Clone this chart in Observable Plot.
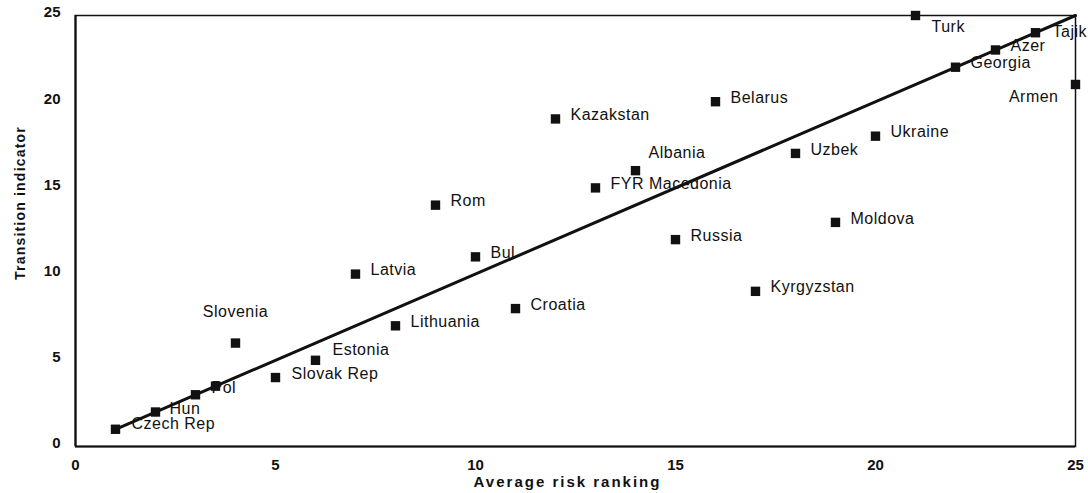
<!DOCTYPE html>
<html>
<head>
<meta charset="utf-8">
<script src="https://cdn.jsdelivr.net/npm/d3@7"></script>
<script src="https://cdn.jsdelivr.net/npm/@observablehq/plot@0.6"></script>
<style>
  html, body { margin: 0; padding: 0; background: #fff; }
  #chart svg { display: block; }
  .xtitle text { letter-spacing: 2px; }
  .ytitle text { letter-spacing: 1.2px; }
  .clabel text { letter-spacing: 0.5px; }
</style>
</head>
<body>
<div id="chart"></div>
<script>
// ---- Data ----
const countries = ["Czech Rep", "Hun", "", "Pol", "Slovenia", "Slovak Rep", "Estonia", "Latvia", "Lithuania", "Rom", "Bul", "Croatia", "Kazakstan", "FYR Macedonia", "Albania", "Russia", "Belarus", "Kyrgyzstan", "Uzbek", "Moldova", "Ukraine", "Turk", "Georgia", "Azer", "Tajik", "Armen"];
const riskRanking = [1, 2, 3, 3.5, 4, 5, 6, 7, 8, 9, 10, 11, 12, 13, 14, 15, 16, 17, 18, 19, 20, 21, 22, 23, 24, 25];
const transitionIndicator = [1, 2, 3, 3.5, 6, 4, 5, 10, 7, 14, 11, 8, 19, 15, 16, 12, 20, 9, 17, 13, 18, 25, 22, 23, 24, 21];
const fitX = [1, 25];
const fitY = [1, 25];
const xTicks = [0, 5, 10, 15, 20, 25];
const yTicks = [0, 5, 10, 15, 20, 25];
const xTitle = "Average risk ranking";
const yTitle = "Transition indicator";

// ---- Label placement (style only) ----
const labelPlacement = {
  "Czech Rep": [16, -5, "start"],
  "Hun": [14, -3, "start"],
  "Pol": [-4, 2, "start"],
  "Slovenia": [0, -31, "middle"],
  "Slovak Rep": [16, -4, "start"],
  "Estonia": [17, -10, "start"],
  "Albania": [13, -18, "start"],
  "Turk": [16, 11, "start"],
  "Tajik": [17, -1, "start"],
  "Armen": [-17, 12, "end"]
};
const defaultPlacement = [15, -4, "start"];

const points = countries.map((c, i) => ({name: c, x: riskRanking[i], y: transitionIndicator[i]}));
const fitLine = fitX.map((x, i) => ({x, y: fitY[i]}));

const labelMarks = points.filter(d => d.name).map(d => {
  const [dx, dy, anchor] = labelPlacement[d.name] || defaultPlacement;
  return Plot.text([d], {x: "x", y: "y", text: "name", dx, dy, textAnchor: anchor,
    fontSize: 16, fill: "#111", className: "clabel"});
});

const chart = Plot.plot({
  width: 1088,
  height: 493,
  marginLeft: 75,
  marginRight: 13,
  marginTop: 15,
  marginBottom: 47,
  style: {fontFamily: "Liberation Sans, Arial, sans-serif", background: "#fff", color: "#111"},
  x: {domain: [0, 25]},
  y: {domain: [0, 25]},
  marks: [
    Plot.frame({stroke: "#111", strokeWidth: 1.5}),
    Plot.ruleX([0], {stroke: "#111", strokeWidth: 2.2}),
    Plot.ruleY([0], {stroke: "#111", strokeWidth: 2.2}),
    Plot.axisX({ticks: xTicks, tickSize: 0, tickPadding: 13, fontSize: 15, fontWeight: "bold", label: null}),
    Plot.axisY({ticks: yTicks, tickSize: 0, tickPadding: 15, fontSize: 15, fontWeight: "bold", label: null, dy: -3}),
    Plot.text([xTitle], {frameAnchor: "bottom", dy: 40, dx: -8, fontSize: 15, fontWeight: "bold", fill: "#111", className: "xtitle"}),
    Plot.text([yTitle], {frameAnchor: "left", textAnchor: "middle", rotate: -90, dx: -55, dy: -28, fontSize: 14, fontWeight: "bold", fill: "#111", className: "ytitle"}),
    Plot.line(fitLine, {x: "x", y: "y", stroke: "#111", strokeWidth: 3}),
    Plot.dot(points, {x: "x", y: "y", symbol: "square", r: 5.3, fill: "#111", stroke: "none"}),
    ...labelMarks
  ]
});
document.getElementById("chart").appendChild(chart);
</script>
</body>
</html>
